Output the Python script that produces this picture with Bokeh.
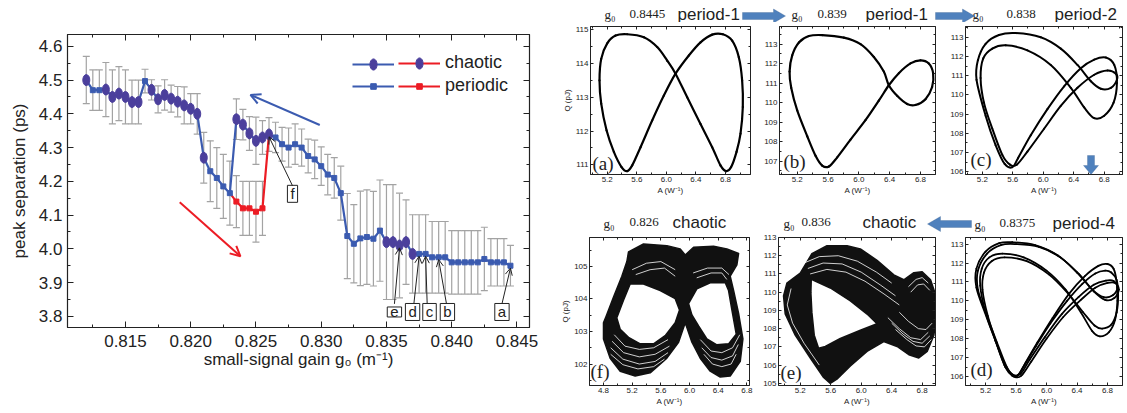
from bokeh.plotting import figure
from bokeh.models import (ColumnDataSource, Whisker, TeeHead, Arrow, OpenHead,
                          Label, Legend, LegendItem, LinearAxis, FixedTicker,
                          PrintfTickFormatter, PolyAnnotation)
from bokeh.layouts import row, column
from bokeh.embed import file_html
from bokeh.resources import INLINE

SANS = "Liberation Sans"
SERIF = "Liberation Serif"

# ---------------- main chart data ----------------
g0 = [0.8120, 0.8125, 0.8130, 0.8135, 0.8140, 0.8145, 0.8150, 0.8155, 0.8160, 0.8165,
      0.8170, 0.8175, 0.8180, 0.8185, 0.8190, 0.8195, 0.8200, 0.8205, 0.8210, 0.8215,
      0.8220, 0.8225, 0.8230, 0.8235, 0.8240, 0.8245, 0.8250, 0.8255, 0.8260, 0.8265,
      0.8270, 0.8275, 0.8280, 0.8285, 0.8290, 0.8295, 0.8300, 0.8305, 0.8310, 0.8315,
      0.8320, 0.8325, 0.8330, 0.8335, 0.8340, 0.8345, 0.8350, 0.8355, 0.8360, 0.8365,
      0.8370, 0.8375, 0.8380, 0.8385, 0.8390, 0.8395, 0.8400, 0.8405, 0.8410, 0.8415,
      0.8420, 0.8425, 0.8430, 0.8435, 0.8440, 0.8445]
sep = [4.500, 4.470, 4.470, 4.472, 4.450, 4.460, 4.450, 4.435, 4.435, 4.497,
       4.471, 4.443, 4.456, 4.445, 4.436, 4.425, 4.415, 4.400, 4.270, 4.230,
       4.210, 4.185, 4.165, 4.384, 4.368, 4.342, 4.320, 4.330, 4.339, 4.330,
       4.310, 4.300, 4.310, 4.300, 4.275, 4.265, 4.245, 4.220, 4.210, 4.165,
       4.038, 4.015, 4.031, 4.035, 4.030, 4.054, 4.020, 4.020, 4.010, 4.020,
       3.985, 3.985, 3.985, 3.975, 3.975, 3.975, 3.960, 3.960, 3.960, 3.960,
       3.960, 3.970, 3.960, 3.960, 3.960, 3.950]
sep_err = [0.070, 0.060, 0.060, 0.080, 0.080, 0.080, 0.080, 0.065, 0.065, 0.035,
           0.030, 0.040, 0.045, 0.040, 0.045, 0.055, 0.045, 0.060, 0.075, 0.090,
           0.090, 0.095, 0.095, 0.060, 0.045, 0.050, 0.070, 0.050, 0.050, 0.045,
           0.050, 0.058, 0.060, 0.055, 0.050, 0.057, 0.057, 0.060, 0.060, 0.080,
           0.126, 0.116, 0.140, 0.140, 0.140, 0.150, 0.170, 0.170, 0.155, 0.125,
           0.116, 0.116, 0.116, 0.106, 0.106, 0.106, 0.094, 0.094, 0.094, 0.094,
           0.094, 0.094, 0.070, 0.070, 0.070, 0.060]
state = list("CPPCCCCCCP" "CCCCCCCCCP" "PPPCCCCCCP" "PPPPPPPPPP"
             "PPPPPPCCCC" "CPPPPPPPPP" "PPPPPP")

# lower (increasing-gain) branch
g0_low = [0.8230, 0.8235, 0.8240, 0.8245, 0.8250, 0.8255, 0.8260]
sep_low = [4.165, 4.140, 4.120, 4.120, 4.110, 4.120, 4.339]
err_low = [0.0, 0.077, 0.080, 0.080, 0.090, 0.080, 0.0]
state_low = list("PPPPPPC")

# letters marking the phase-portrait panels
marks = ["a", "b", "c", "d", "e", "f"]
mark_g0 = [0.8445, 0.8390, 0.8380, 0.8375, 0.8360, 0.8260]

# ---------------- phase portrait data ----------------
A_a = [5.470, 5.696, 5.876, 6.011, 6.124, 6.282, 6.462, 6.620, 6.732, 6.809, 6.876, 6.949,
       7.003, 7.034, 7.025, 6.980, 6.890, 6.764, 6.620, 6.462, 6.304, 6.124, 5.966, 5.808,
       5.651, 5.538, 5.470, 5.394, 5.290, 5.191, 5.119, 5.096, 5.119, 5.200, 5.313]
Q_a = [114.87, 114.78, 114.49, 114.09, 113.70, 113.00, 112.21, 111.52, 110.98, 110.81, 110.93, 111.38,
       111.92, 112.71, 113.50, 114.19, 114.68, 114.87, 114.86, 114.63, 114.24, 113.70, 113.05, 112.31,
       111.52, 110.98, 110.81, 110.93, 111.38, 112.02, 112.81, 113.50, 114.14, 114.60, 114.83]

A_b = [5.524, 5.805, 6.022, 6.195, 6.324, 6.389, 6.497, 6.627, 6.735, 6.865, 6.951, 6.964,
       6.908, 6.800, 6.670, 6.519, 6.389, 6.259, 6.086, 5.892, 5.719, 5.611, 5.524, 5.438,
       5.330, 5.200, 5.122, 5.101, 5.135, 5.222, 5.351]
Q_b = [113.46, 113.33, 113.00, 112.34, 111.59, 110.89, 110.35, 109.93, 109.88, 110.18, 110.80, 111.51,
       112.01, 112.17, 112.01, 111.51, 110.89, 110.10, 109.10, 108.11, 107.20, 106.73, 106.78, 107.28,
       108.28, 109.60, 110.76, 111.59, 112.42, 113.08, 113.41]

A_c = [5.638, 5.967, 6.230, 6.449, 6.625, 6.756, 6.888, 6.967, 6.954, 6.844, 6.669, 6.449,
       6.230, 6.011, 5.792, 5.652, 5.564, 5.463, 5.332, 5.222, 5.178, 5.213, 5.332, 5.507,
       5.792, 6.099, 6.362, 6.537, 6.669, 6.800, 6.923, 6.967, 6.932, 6.822, 6.669, 6.493,
       6.274, 6.055, 5.836, 5.669, 5.595, 5.494, 5.375, 5.244, 5.125, 5.143, 5.244, 5.419]
Q_c = [113.22, 113.00, 112.41, 111.56, 110.71, 110.32, 110.37, 110.79, 111.10, 111.27, 111.05, 110.37,
       109.43, 108.24, 107.05, 106.37, 106.37, 106.88, 108.24, 109.60, 110.88, 111.90, 112.41, 112.58,
       112.32, 111.56, 110.37, 109.35, 108.79, 108.92, 109.60, 110.62, 111.56, 111.95, 111.84, 111.39,
       110.45, 109.26, 107.90, 106.71, 106.24, 106.41, 107.39, 108.92, 110.79, 111.81, 112.66, 113.12]

A_d1 = [5.55, 5.85, 6.15, 6.40, 6.60, 6.75, 6.87, 6.93, 6.88, 6.78, 6.62, 6.42,
        6.20, 5.98, 5.78, 5.66, 5.56, 5.46, 5.33, 5.19, 5.08, 5.08, 5.20, 5.38]
Q_d1 = [113.10, 112.95, 112.40, 111.50, 110.60, 110.20, 110.30, 110.70, 111.05, 111.07, 110.85, 110.20,
        109.30, 108.10, 106.90, 106.15, 106.10, 106.60, 107.90, 109.40, 110.70, 111.70, 112.60, 113.05]
A_d2 = [5.60, 5.90, 6.18, 6.43, 6.62, 6.77, 6.89, 6.95, 6.90, 6.80, 6.64, 6.45,
        6.22, 6.00, 5.80, 5.67, 5.58, 5.48, 5.35, 5.21, 5.10, 5.10, 5.22, 5.40]
Q_d2 = [113.00, 112.85, 112.30, 111.40, 110.50, 110.05, 110.15, 110.60, 110.95, 110.95, 110.70, 110.05,
        109.15, 108.00, 106.80, 106.05, 106.00, 106.50, 107.80, 109.30, 110.60, 111.60, 112.50, 112.95]
A_d3 = [5.42, 5.70, 6.00, 6.25, 6.45, 6.60, 6.70, 6.82, 6.90, 6.93, 6.92, 6.88, 6.80, 6.68,
        6.50, 6.30, 6.08, 5.88, 5.72, 5.63, 5.55, 5.45, 5.33, 5.20, 5.13, 5.15, 5.25]
Q_d3 = [112.50, 112.30, 111.60, 110.60, 109.40, 108.40, 108.13, 108.35, 109.00, 110.00, 111.00, 111.70, 111.95, 111.85,
        111.30, 110.40, 109.10, 107.80, 106.70, 106.10, 106.10, 106.60, 107.90, 109.40, 110.80, 111.70, 112.30]
A_d4 = [5.45, 5.74, 6.03, 6.28, 6.48, 6.63, 6.73, 6.85, 6.92, 6.94, 6.92, 6.85, 6.77, 6.64,
        6.47, 6.27, 6.05, 5.86, 5.71, 5.62, 5.55, 5.46, 5.35, 5.23, 5.16, 5.18, 5.28]
Q_d4 = [112.30, 112.10, 111.40, 110.40, 109.40, 108.70, 108.54, 108.75, 109.40, 110.30, 111.10, 111.50, 111.60, 111.45,
        110.90, 110.00, 108.80, 107.60, 106.60, 106.05, 106.05, 106.50, 107.70, 109.20, 110.60, 111.50, 112.10]

# chaotic attractor (f, g0=0.826): filled envelope and its two holes
A_f_out = [5.149, 5.358, 5.684, 5.870, 5.940, 6.056, 6.335, 6.521, 6.684, 6.660, 6.567, 6.614, 6.684,
           6.744, 6.707, 6.567, 6.428, 6.288, 6.149, 6.033, 5.940, 5.847, 5.684, 5.451, 5.242, 5.033,
           4.893, 4.800, 4.800, 4.837, 4.940, 5.056, 5.126]
Q_f_out = [105.45, 105.69, 105.64, 105.54, 105.35, 105.59, 105.62, 105.54, 105.40, 105.05, 104.70, 104.26, 103.56,
           102.77, 102.08, 101.63, 101.60, 101.78, 102.18, 102.67, 103.27, 102.67, 102.18, 101.73, 101.63, 101.78,
           102.18, 102.77, 103.27, 103.47, 104.06, 104.70, 105.15]
A_f_h1 = [4.986, 5.079, 5.172, 5.358, 5.591, 5.800, 5.860, 5.800, 5.660, 5.498, 5.312, 5.149, 5.033]
Q_f_h1 = [103.42, 103.96, 104.46, 104.46, 104.26, 104.01, 103.66, 103.27, 102.87, 102.62, 102.62, 102.82, 103.07]
A_f_h2 = [5.986, 6.102, 6.288, 6.498, 6.544, 6.591, 6.651, 6.544, 6.381, 6.242, 6.126, 6.033]
Q_f_h2 = [103.86, 104.31, 104.50, 104.50, 104.26, 103.66, 102.92, 102.62, 102.59, 102.77, 103.17, 103.51]
A_f_gaps = [[4.95, 5.10, 5.30, 5.50, 5.70], [4.92, 5.08, 5.30, 5.52, 5.72], [4.90, 5.07, 5.30, 5.52, 5.70],
            [4.90, 5.07, 5.28, 5.50, 5.65], [6.15, 6.30, 6.45, 6.60, 6.70], [6.17, 6.30, 6.45, 6.60, 6.68],
            [6.20, 6.32, 6.45, 6.58, 6.65], [5.20, 5.40, 5.60, 5.80], [5.25, 5.45, 5.65, 5.80],
            [6.05, 6.25, 6.45, 6.55], [6.10, 6.30, 6.45, 6.52]]
Q_f_gaps = [[102.90, 102.55, 102.45, 102.50, 102.75], [102.70, 102.35, 102.22, 102.30, 102.55],
            [102.50, 102.15, 102.00, 102.08, 102.35], [102.30, 101.98, 101.85, 101.92, 102.15],
            [102.75, 102.40, 102.35, 102.50, 102.90], [102.50, 102.20, 102.12, 102.25, 102.60],
            [102.30, 102.00, 101.92, 102.00, 102.30], [104.90, 105.10, 105.15, 104.90],
            [104.75, 104.90, 104.95, 104.70], [104.80, 104.95, 104.95, 104.75], [104.65, 104.80, 104.80, 104.60]]

# chaotic attractor (e, g0=0.836)
A_e_out = [5.200, 5.353, 5.551, 5.814, 5.989, 6.208, 6.428, 6.559, 6.691, 6.800, 6.910, 6.976, 6.984,
           6.954, 6.866, 6.756, 6.625, 6.471, 6.296, 6.077, 5.858, 5.682, 5.595, 5.507, 5.332, 5.134,
           5.003, 4.981, 5.025]
Q_e_out = [111.04, 112.11, 112.55, 112.55, 112.375, 111.75, 110.95, 110.68, 111.07, 111.125, 110.68, 109.875, 108.71,
           107.64, 106.75, 106.39, 106.57, 107.02, 107.29, 106.75, 105.95, 105.23, 105.00, 105.32, 106.39, 107.64,
           108.80, 109.79, 110.50]
A_e_h = [5.345, 5.595, 5.858, 6.077, 6.208, 5.989, 5.726, 5.529, 5.441, 5.384, 5.353, 5.340]
Q_e_h = [110.71, 110.23, 109.52, 108.80, 108.27, 107.91, 107.46, 107.02, 106.93, 107.64, 108.89, 109.96]
A_e_gaps = [[5.25, 5.45, 5.70, 5.95, 6.20, 6.40], [5.30, 5.50, 5.75, 6.00, 6.25, 6.45],
            [5.33, 5.55, 5.80, 6.05, 6.30, 6.50], [6.35, 6.50, 6.65, 6.78, 6.88],
            [6.40, 6.55, 6.68, 6.80, 6.90], [6.45, 6.60, 6.72, 6.83, 6.92], [6.50, 6.62, 6.75, 6.85, 6.93],
            [6.62, 6.72, 6.80, 6.88], [6.65, 6.74, 6.82, 6.90], [5.08, 5.03, 5.10, 5.25, 5.45]]
Q_e_gaps = [[111.60, 111.95, 112.00, 111.70, 111.10, 110.50], [111.30, 111.60, 111.55, 111.10, 110.40, 109.80],
            [111.00, 111.25, 111.10, 110.60, 109.90, 109.30], [108.60, 108.00, 107.50, 107.40, 107.80],
            [108.30, 107.70, 107.30, 107.20, 107.60], [107.95, 107.40, 107.05, 107.00, 107.40],
            [108.90, 108.40, 108.00, 107.95, 108.30], [110.30, 110.70, 110.80, 110.50],
            [110.00, 110.40, 110.45, 110.10], [110.20, 109.30, 108.30, 107.20, 106.00]]

# ---------------- helpers ----------------
INK = "#222222"
BLUE = "#3b5bb0"
RED = "#ec1c24"
PURPLE = "#4b3f9c"
ERR = "#a3a3a3"
ARROW_FILL = "#4f81bd"
ARROW_LINE = "#385d8a"


def style_axis(ax, ticks, minors, fmt, fs, tin, tmin, show_labels=True):
    ax.ticker = FixedTicker(ticks=ticks, minor_ticks=minors)
    ax.formatter = PrintfTickFormatter(format=fmt)
    ax.major_tick_in = tin
    ax.major_tick_out = 0
    ax.minor_tick_in = tmin
    ax.minor_tick_out = 0
    ax.axis_line_color = INK
    ax.major_tick_line_color = INK
    ax.minor_tick_line_color = INK
    ax.major_label_text_font = SANS
    if show_labels:
        ax.major_label_text_font_size = fs
        ax.major_label_text_color = INK
    else:
        ax.major_label_text_font_size = "1px"
        ax.major_label_text_color = None
        ax.major_label_standoff = 0


def mirror(p, ticks, minors, fmt, tin, tmin, side):
    ax = LinearAxis()
    style_axis(ax, ticks, minors, fmt, "1px", tin, tmin, show_labels=False)
    p.add_layout(ax, side)


# ---------------- main chart ----------------
XR = (0.81056, 0.84596)
YR = (3.767, 4.635)
p = figure(width=555, height=413, x_range=XR, y_range=YR, output_backend="svg",
           toolbar_location=None, min_border_left=67, min_border_right=26,
           min_border_top=34, min_border_bottom=86)
p.grid.visible = False
p.outline_line_color = INK
p.outline_line_width = 1.2

xt = [0.815, 0.820, 0.825, 0.830, 0.835, 0.840, 0.845]
xm = [0.8125, 0.8175, 0.8225, 0.8275, 0.8325, 0.8375, 0.8425]
yt = [3.8, 3.9, 4.0, 4.1, 4.2, 4.3, 4.4, 4.5, 4.6]
ym = [3.85, 3.95, 4.05, 4.15, 4.25, 4.35, 4.45, 4.55]
style_axis(p.xaxis[0], xt, xm, "%.3f", "17px", 6, 3)
style_axis(p.yaxis[0], yt, ym, "%.1f", "17px", 6, 3)
p.xaxis[0].major_label_standoff = 7
p.yaxis[0].major_label_standoff = 5
p.xaxis[0].axis_label = "small-signal gain g\u2080 (m\u207b\u00b9)"
p.yaxis[0].axis_label = "peak separation (ps)"
for ax in (p.xaxis[0], p.yaxis[0]):
    ax.axis_label_text_font = SANS
    ax.axis_label_text_font_size = "17px"
    ax.axis_label_text_font_style = "normal"
    ax.axis_label_text_color = INK
p.xaxis[0].axis_label_standoff = 0
p.yaxis[0].axis_label_standoff = 7
mirror(p, xt, xm, "%.3f", 6, 3, "above")
mirror(p, yt, ym, "%.1f", 6, 3, "right")

# error bars
wx, wu, wl = [], [], []
for x, y, e in zip(g0, sep, sep_err):
    wx.append(x); wu.append(y + e); wl.append(y - e)
for x, y, e in zip(g0_low, sep_low, err_low):
    if e > 0:
        wx.append(x); wu.append(y + e); wl.append(y - e)
esrc = ColumnDataSource(dict(x=wx, upper=wu, lower=wl))
p.add_layout(Whisker(source=esrc, base="x", upper="upper", lower="lower",
                     line_color=ERR, line_width=1.2, level="underlay",
                     upper_head=TeeHead(size=7, line_color=ERR, line_width=1.2),
                     lower_head=TeeHead(size=7, line_color=ERR, line_width=1.2)))

r_blue = p.line(g0, sep, line_color=BLUE, line_width=2.2)
r_red = p.line(g0_low, sep_low, line_color=RED, line_width=2.2)

ch_x = [x for x, s in zip(g0, state) if s == "C"]
ch_y = [y for y, s in zip(sep, state) if s == "C"]
pb_x = [x for x, s in zip(g0, state) if s == "P"]
pb_y = [y for y, s in zip(sep, state) if s == "P"]
pr_x = [x for x, s in zip(g0_low[1:-1], state_low[1:-1]) if s == "P"]
pr_y = [y for y, s in zip(sep_low[1:-1], state_low[1:-1]) if s == "P"]

r_pb = p.scatter(pb_x, pb_y, marker="square", size=5, fill_color=BLUE, line_color=BLUE)
r_pr = p.scatter(pr_x, pr_y, marker="square", size=5, fill_color=RED, line_color=RED)
r_ch = p.ellipse(ch_x, ch_y, width=7, height=11, width_units="screen", height_units="screen",
                 fill_color=PURPLE, line_color=PURPLE)

# legends: a blue column (blank labels) and a red column with the labels
common = dict(glyph_height=14, label_height=20, spacing=2, padding=0, margin=0,
              glyph_width=42, label_width=0,
              border_line_color=None, background_fill_alpha=0,
              label_text_font=SANS, label_text_font_size="18px", label_text_color=INK)
leg1 = Legend(items=[LegendItem(label=" ", renderers=[r_blue, r_ch]),
                     LegendItem(label=" ", renderers=[r_blue, r_pb])],
              location=(285, 231), label_standoff=0, **common)
leg2 = Legend(items=[LegendItem(label="chaotic", renderers=[r_red, r_ch]),
                     LegendItem(label="periodic", renderers=[r_red, r_pr])],
              location=(331, 231), label_standoff=5, **common)
p.add_layout(leg1)
p.add_layout(leg2)

# hysteresis arrows
p.add_layout(Arrow(x_start=0.82989, y_start=4.367, x_end=0.82458, y_end=4.456,
                   line_color=BLUE, line_width=2,
                   end=OpenHead(size=10, line_color=BLUE, line_width=2)))
p.add_layout(Arrow(x_start=0.81916, y_start=4.138, x_end=0.82381, y_end=3.978,
                   line_color=RED, line_width=2,
                   end=OpenHead(size=10, line_color=RED, line_width=2)))

# lettered boxes with arrows to the corresponding gains
box_pos = {"a": (0.84385, 3.813), "b": (0.83967, 3.813), "c": (0.83830, 3.813),
           "d": (0.83700, 3.813), "e": (0.83561, 3.813), "f": (0.82780, 4.163)}
tail_off = {"a": 0.0, "b": -0.00007, "c": -0.00018, "d": 0.0001, "e": 0.0, "f": 0.0}
for m, gx in zip(marks, mark_g0):
    bx, by = box_pos[m]
    gy = sep[g0.index(gx)]
    p.add_layout(Label(x=bx, y=by, text=m, text_align="center", text_baseline="middle",
                       text_font=SANS, text_font_size="15px", text_color=INK,
                       border_line_color=INK, border_line_width=1,
                       background_fill_color="white",
                       padding=dict(left=3, right=3, top=0, bottom=0)))
    p.add_layout(Arrow(x_start=bx + tail_off[m], y_start=by + 0.024, x_end=gx, y_end=gy - 0.007,
                       line_color=INK, line_width=1,
                       end=OpenHead(size=7, line_color=INK, line_width=1)))

# ---------------- phase-portrait panels ----------------
# row 1 figures occupy page y 22..200, row 2 figures page y 233..413
SPEC = {
    "a": dict(ox=555, oy=22, w=205, h=178, bl=35, br=10, bt=4, bb=26, xr=(4.974, 7.138), yr=(110.71, 115.1),
              xt=[5.2, 5.6, 6.0, 6.4, 6.8], yt=[111, 112, 113, 114, 115], ylab=True),
    "b": dict(ox=760, oy=22, w=185, h=178, bl=19, br=10, bt=1, bb=24, xr=(4.97, 6.995), yr=(106.32, 113.9),
              xt=[5.2, 5.6, 6.0, 6.4, 6.8], yt=[107, 108, 109, 110, 111, 112, 113], ylab=False),
    "c": dict(ox=945, oy=22, w=182, h=178, bl=20, br=5, bt=4, bb=23, xr=(4.98, 7.04), yr=(105.86, 113.56),
              xt=[5.2, 5.6, 6.0, 6.4, 6.8], yt=[106, 107, 108, 109, 110, 111, 112, 113], ylab=False),
    "f": dict(ox=555, oy=233, w=205, h=180, bl=34, br=11, bt=1, bb=28, xr=(4.605, 6.836), yr=(101.34, 105.89),
              xt=[4.8, 5.2, 5.6, 6.0, 6.4, 6.8], yt=[102, 103, 104, 105], ylab=True),
    "e": dict(ox=760, oy=233, w=185, h=180, bl=18, br=10, bt=2, bb=28, xr=(4.915, 6.975), yr=(104.88, 113.0),
              xt=[5.2, 5.6, 6.0, 6.4, 6.8], yt=[105, 106, 107, 108, 109, 110, 111, 112, 113], ylab=False),
    "d": dict(ox=945, oy=233, w=182, h=180, bl=20, br=5, bt=4, bb=27, xr=(4.937, 6.997), yr=(105.53, 113.35),
              xt=[5.2, 5.6, 6.0, 6.4, 6.8], yt=[106, 107, 108, 109, 110, 111, 112, 113], ylab=False),
}


def to_screen(s, px, py):
    # page pixel -> frame-relative screen units (x right, y up from frame bottom)
    fl = s["ox"] + s["bl"]
    fb = s["oy"] + s["h"] - s["bb"]
    return px - fl, fb - py


def make_panel(key):
    s = SPEC[key]
    q = figure(width=s["w"], height=s["h"], x_range=s["xr"], y_range=s["yr"], output_backend="svg",
               toolbar_location=None, min_border_left=s["bl"], min_border_right=s["br"],
               min_border_top=s["bt"], min_border_bottom=s["bb"])
    q.grid.visible = False
    q.outline_line_color = "#333333"
    q.outline_line_width = 1
    xmn = [round(v + 0.2, 1) for v in s["xt"]] + [round(s["xt"][0] - 0.2, 1)]
    ymn = [v + 0.5 for v in s["yt"]] + [s["yt"][0] - 0.5]
    style_axis(q.xaxis[0], s["xt"], xmn, "%.1f", "8px", 3, 2)
    style_axis(q.yaxis[0], s["yt"], ymn, "%d", "8px", 3, 2)
    q.xaxis[0].major_label_standoff = 2
    q.yaxis[0].major_label_standoff = 2
    q.xaxis[0].axis_label = "A (W\u207b\u00b9)"
    if s["ylab"]:
        q.yaxis[0].axis_label = "Q (pJ)"
    for ax in (q.xaxis[0], q.yaxis[0]):
        ax.axis_label_text_font = SANS
        ax.axis_label_text_font_size = "8px"
        ax.axis_label_text_font_style = "normal"
        ax.axis_label_text_color = INK
        ax.axis_label_standoff = 1
    mirror(q, s["xt"], xmn, "%.1f", 3, 2, "above")
    mirror(q, s["yt"], ymn, "%d", 3, 2, "right")
    return q


def smooth_loop(q, A, Q, width=2.0):
    n = len(A)
    d = dict(x0=[], y0=[], x1=[], y1=[], cx0=[], cy0=[], cx1=[], cy1=[])
    for i in range(n):
        im, ip, ipp = (i - 1) % n, (i + 1) % n, (i + 2) % n
        d["x0"].append(A[i]); d["y0"].append(Q[i])
        d["x1"].append(A[ip]); d["y1"].append(Q[ip])
        d["cx0"].append(A[i] + (A[ip] - A[im]) / 6); d["cy0"].append(Q[i] + (Q[ip] - Q[im]) / 6)
        d["cx1"].append(A[ip] - (A[ipp] - A[i]) / 6); d["cy1"].append(Q[ip] - (Q[ipp] - Q[i]) / 6)
    q.bezier(source=ColumnDataSource(d), x0="x0", y0="y0", x1="x1", y1="y1",
             cx0="cx0", cy0="cy0", cx1="cx1", cy1="cy1",
             line_color="black", line_width=width, line_cap="round")


def plabel(q, key, px, py, text):
    x, y = to_screen(SPEC[key], px, py)
    q.add_layout(Label(x=x, y=y, x_units="screen", y_units="screen", text=text,
                       text_font=SERIF, text_font_size="19px",
                       text_baseline="middle", text_color=INK))


pa = make_panel("a"); pb = make_panel("b"); pc = make_panel("c")
pf = make_panel("f"); pe = make_panel("e"); pd = make_panel("d")

smooth_loop(pa, A_a, Q_a, 2.2)
smooth_loop(pb, A_b, Q_b, 2.2)
smooth_loop(pc, A_c, Q_c, 2.0)
for A, Q in ((A_d1, Q_d1), (A_d2, Q_d2), (A_d3, Q_d3), (A_d4, Q_d4)):
    smooth_loop(pd, A, Q, 1.8)

pf.multi_polygons(xs=[[[A_f_out, A_f_h1, A_f_h2]]], ys=[[[Q_f_out, Q_f_h1, Q_f_h2]]],
                  fill_color="#111111", line_color="#111111", line_width=1.5, line_join="round")
pf.multi_line(A_f_gaps, Q_f_gaps, line_color="white", line_width=0.8)
pe.multi_polygons(xs=[[[A_e_out, A_e_h]]], ys=[[[Q_e_out, Q_e_h]]],
                  fill_color="#111111", line_color="#111111", line_width=1.5, line_join="round")
pe.multi_line(A_e_gaps, Q_e_gaps, line_color="white", line_width=0.8)

plabel(pa, "a", 592, 163, "(a)")
plabel(pb, "b", 783, 163, "(b)")
plabel(pc, "c", 970, 162, "(c)")
plabel(pf, "f", 590, 371, "(f)")
plabel(pe, "e", 780, 372, "(e)")
plabel(pd, "d", 970, 370, "(d)")

# downward arrow from panel (c) toward panel (d), kept inside panel (c)'s frame
s_c = SPEC["c"]
cd_pts = [(1087, 158), (1094, 158), (1094, 168), (1098, 168), (1090.5, 177), (1083, 168), (1087, 168)]
cd = [to_screen(s_c, px, py) for px, py in cd_pts]
pc.add_layout(PolyAnnotation(xs=[v[0] for v in cd], ys=[v[1] for v in cd], xs_units="screen",
                             ys_units="screen", fill_color=ARROW_FILL, fill_alpha=1,
                             line_color=ARROW_LINE, line_width=1, level="overlay"))


# ---------------- title strips (page-pixel coordinates) ----------------
def strip(y0, y1):
    s = figure(width=572, height=y1 - y0, x_range=(555, 1127), y_range=(y1, y0),
               output_backend="svg", toolbar_location=None, x_axis_type=None, y_axis_type=None,
               min_border=0, min_border_left=0, min_border_right=0, min_border_top=0,
               min_border_bottom=0)
    s.grid.visible = False
    s.outline_line_color = None
    return s


def title(s, gx, valx, statex, yc, val, st):
    s.add_layout(Label(x=gx, y=yc + 0.5, text="g\u2080", text_font=SERIF, text_font_size="13px",
                       text_baseline="middle", text_color=INK))
    s.add_layout(Label(x=valx, y=yc - 0.5, text=val, text_font=SERIF, text_font_size="13px",
                       text_baseline="middle", text_color=INK))
    s.add_layout(Label(x=statex, y=yc, text=st, text_font=SANS, text_font_size="17px",
                       text_baseline="middle", text_color=INK))


def block_arrow(s, pts):
    s.add_layout(PolyAnnotation(xs=[v[0] for v in pts], ys=[v[1] for v in pts],
                                fill_color=ARROW_FILL, fill_alpha=1,
                                line_color=ARROW_LINE, line_width=1))


s1 = strip(0, 22)
title(s1, 604, 629, 677, 13.5, "0.8445", "period-1")
title(s1, 791, 817, 865, 13.5, "0.839", "period-1")
title(s1, 972, 1006, 1054, 13.5, "0.838", "period-2")
block_arrow(s1, [(742, 12), (773, 12), (773, 8.5), (785, 15.5), (773, 22.5), (773, 19), (742, 19)])
block_arrow(s1, [(935, 12), (962, 12), (962, 8.5), (974, 15.5), (962, 22.5), (962, 19), (935, 19)])

s2 = strip(200, 233)
title(s2, 603, 629, 672, 222, "0.826", "chaotic")
title(s2, 783, 801, 862, 222, "0.836", "chaotic")
title(s2, 974, 999, 1052, 223, "0.8375", "period-4")
block_arrow(s2, [(971, 220), (940, 220), (940, 216), (927, 223.5), (940, 231), (940, 227), (971, 227)])

right = column(s1, row(pa, pb, pc), s2, row(pf, pe, pd))
layout = row(p, right)
open("out.html", "w").write(file_html(layout, INLINE))
